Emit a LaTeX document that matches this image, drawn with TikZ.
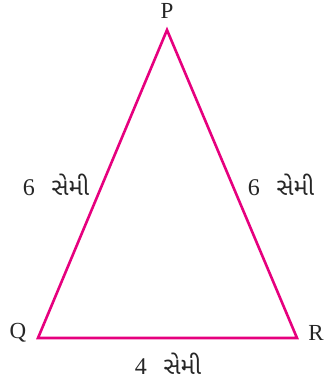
\documentclass[tikz,border=0pt]{standalone}
\usepackage{fontspec}
\setmainfont{Liberation Serif}
\newfontfamily\gujfont[Script=Gujarati]{Noto Sans Gujarati UI}
\definecolor{tri}{HTML}{E6007E}
\begin{document}
\begin{tikzpicture}[x=1pt,y=-1pt,
  lbl/.style={font=\fontsize{23}{26}\selectfont, text=black!85, inner sep=0pt},
  side/.style={font=\fontsize{24}{28}\selectfont, text=black!85, inner sep=0pt}]
\useasboundingbox (0,0) rectangle (324,383);
\coordinate (P) at (167,30);
\coordinate (Q) at (38,338);
\coordinate (R) at (297,338);
\draw[tri, line width=2.6pt, line join=miter] (P) -- (Q) -- (R) -- cycle;
\node[lbl] (lp) at (167,11) {P};
\node[lbl] (lq) at (18,333) {Q};
\node[lbl] (lr) at (316,333) {R};
\node[side] (sl) at (56,185) {6\hspace{0.7em}{\gujfont સેમી}};
\node[side] (sr) at (281,185) {6\hspace{0.7em}{\gujfont સેમી}};
\node[side] (sb) at (168,364) {4\hspace{0.7em}{\gujfont સેમી}};
\end{tikzpicture}
\end{document}
